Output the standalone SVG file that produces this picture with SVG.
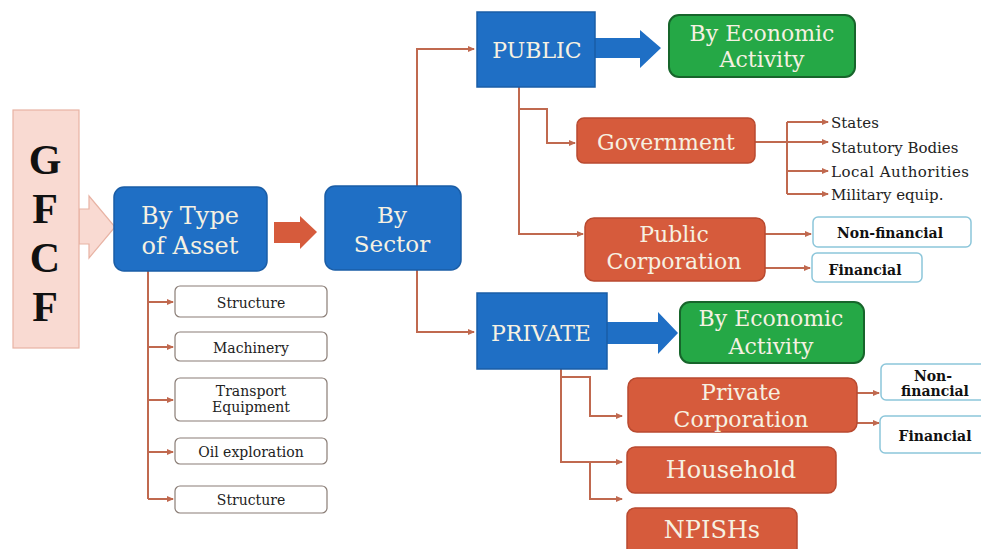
<svg xmlns="http://www.w3.org/2000/svg" width="981" height="549" viewBox="0 0 981 549">
<style>
.blue{fill:#1f6fc5;stroke:#1a5da6;stroke-width:1.5}
.red{fill:#d65b3c;stroke:#b94a30;stroke-width:1.5}
.green{fill:#25a846;stroke:#17652b;stroke-width:2}
.lt{font-family:"DejaVu Serif","Liberation Serif",serif;fill:#f6f1e2;text-anchor:middle}
.small{font-family:"DejaVu Serif","Liberation Serif",serif;fill:#222;font-size:14px;text-anchor:middle}
.list{font-family:"DejaVu Serif","Liberation Serif",serif;fill:#222;font-size:15px}
.bold{font-family:"DejaVu Serif","Liberation Serif",serif;fill:#111;font-size:14px;font-weight:bold;text-anchor:middle}
.gf{font-family:"Liberation Serif",serif;font-weight:bold;font-size:42px;fill:#111;text-anchor:middle}
.wbox{fill:#fff;stroke:#8a7d76;stroke-width:1.2}
.cbox{fill:#fff;stroke:#8cc6da;stroke-width:1.5}
.conn{fill:none;stroke:#c0694f;stroke-width:2}
</style>
<defs>
<marker id="ah" markerUnits="userSpaceOnUse" markerWidth="7" markerHeight="6" refX="6" refY="3" orient="auto">
<path d="M0,0 L7,3 L0,6 z" fill="#c0694f"/>
</marker>
</defs>
<rect width="981" height="549" fill="#fff"/>

<g id="connectors">
<path class="conn" d="M417,186 V49 H474" marker-end="url(#ah)"/>
<path class="conn" d="M417,270 V332 H474" marker-end="url(#ah)"/>
<path class="conn" d="M519,87 V234 H583" marker-end="url(#ah)"/>
<path class="conn" d="M519,109 H547 V143 H575" marker-end="url(#ah)"/>
<path class="conn" d="M755,142 H787"/>
<path class="conn" d="M787,122 V194"/>
<path class="conn" d="M787,122 H828" marker-end="url(#ah)"/>
<path class="conn" d="M787,142 H828" marker-end="url(#ah)"/>
<path class="conn" d="M787,171 H828" marker-end="url(#ah)"/>
<path class="conn" d="M787,194 H828" marker-end="url(#ah)"/>
<path class="conn" d="M765,234 H811" marker-end="url(#ah)"/>
<path class="conn" d="M765,268 H810" marker-end="url(#ah)"/>
<path class="conn" d="M561,369 V462 H622" marker-end="url(#ah)"/>
<path class="conn" d="M561,377 H590 V416 H622" marker-end="url(#ah)"/>
<path class="conn" d="M590,462 V499 H622" marker-end="url(#ah)"/>
<path class="conn" d="M857,393 H879" marker-end="url(#ah)"/>
<path class="conn" d="M857,423 H879" marker-end="url(#ah)"/>
<path class="conn" d="M148,271 V499"/>
<path class="conn" d="M148,302 H173" marker-end="url(#ah)"/>
<path class="conn" d="M148,347 H173" marker-end="url(#ah)"/>
<path class="conn" d="M148,400 H173" marker-end="url(#ah)"/>
<path class="conn" d="M148,452 H173" marker-end="url(#ah)"/>
<path class="conn" d="M148,499 H173" marker-end="url(#ah)"/>
<path d="M79,209 H89 V196 L115,227 L89,258 V244 H79 z" fill="#f9dad2" stroke="#e8b3a4" stroke-width="1.2"/>
<path d="M274,222 H300 V216 L317,232 L300,249 V243 H274 z" fill="#d65b3c"/>
<path d="M595,38 H640 V30 L661,48 L640,68 V58 H595 z" fill="#1f6fc5"/>
<path d="M607,322 H658 V312 L678,333 L658,354 V344 H607 z" fill="#1f6fc5"/>
</g>

<g id="gfcf">
<rect x="13" y="110" width="66" height="238" fill="#f9dad2" stroke="#e8b3a4" stroke-width="1.2"/>
<text class="gf" x="45" y="174">G</text>
<text class="gf" x="45" y="223">F</text>
<text class="gf" x="45" y="272">C</text>
<text class="gf" x="45" y="321">F</text>
</g>

<g id="type-of-asset">
<rect class="blue" x="114" y="187" width="153" height="84" rx="10"/>
<text class="lt" x="190" y="224" font-size="24">By Type</text>
<text class="lt" x="190" y="254" font-size="24">of Asset</text>
</g>

<g id="by-sector">
<rect class="blue" x="325" y="186" width="136" height="84" rx="10"/>
<text class="lt" x="392" y="223" font-size="23">By</text>
<text class="lt" x="392" y="252" font-size="23">Sector</text>
</g>

<g id="asset-structure">
<rect class="wbox" x="175" y="286" width="152" height="31" rx="5"/>
<text class="small" x="251" y="308">Structure</text>
</g>
<g id="asset-machinery">
<rect class="wbox" x="175" y="332" width="152" height="29" rx="5"/>
<text class="small" x="251" y="353">Machinery</text>
</g>
<g id="asset-transport">
<rect class="wbox" x="175" y="378" width="152" height="43" rx="5"/>
<text class="small" x="251" y="396">Transport</text>
<text class="small" x="251" y="412">Equipment</text>
</g>
<g id="asset-oil">
<rect class="wbox" x="175" y="438" width="152" height="26" rx="5"/>
<text class="small" x="251" y="457">Oil exploration</text>
</g>
<g id="asset-structure2">
<rect class="wbox" x="175" y="486" width="152" height="27" rx="5"/>
<text class="small" x="251" y="505">Structure</text>
</g>

<g id="public">
<rect class="blue" x="477" y="12" width="118" height="75"/>
<text class="lt" x="537" y="58" font-size="22">PUBLIC</text>
</g>

<g id="public-economic">
<rect class="green" x="669" y="15" width="186" height="62" rx="10"/>
<text class="lt" x="762" y="41" font-size="22">By Economic</text>
<text class="lt" x="762" y="67" font-size="22">Activity</text>
</g>

<g id="government">
<rect class="red" x="577" y="118" width="178" height="45" rx="7"/>
<text class="lt" x="666" y="150" font-size="22">Government</text>
</g>

<g id="gov-list">
<text class="list" x="831" y="128">States</text>
<text class="list" x="831" y="153">Statutory Bodies</text>
<text class="list" x="831" y="177" textLength="138" lengthAdjust="spacing">Local Authorities</text>
<text class="list" x="831" y="200">Military equip.</text>
</g>

<g id="public-corporation">
<rect class="red" x="585" y="218" width="180" height="63" rx="9"/>
<text class="lt" x="674" y="242" font-size="22">Public</text>
<text class="lt" x="674" y="269" font-size="22">Corporation</text>
</g>

<g id="pub-nonfinancial">
<rect class="cbox" x="813" y="217" width="158" height="30" rx="5"/>
<text class="bold" x="890" y="238">Non-financial</text>
</g>
<g id="pub-financial">
<rect class="cbox" x="812" y="253" width="110" height="29" rx="5"/>
<text class="bold" x="865" y="275">Financial</text>
</g>

<g id="private">
<rect class="blue" x="477" y="293" width="130" height="76"/>
<text class="lt" x="541" y="341" font-size="22">PRIVATE</text>
</g>

<g id="private-economic">
<rect class="green" x="680" y="302" width="184" height="61" rx="10"/>
<text class="lt" x="771" y="326" font-size="22">By Economic</text>
<text class="lt" x="771" y="354" font-size="22">Activity</text>
</g>

<g id="private-corporation">
<rect class="red" x="628" y="378" width="229" height="54" rx="9"/>
<text class="lt" x="741" y="400" font-size="22">Private</text>
<text class="lt" x="741" y="427" font-size="22">Corporation</text>
</g>

<g id="priv-nonfinancial">
<rect class="cbox" x="881" y="364" width="110" height="36" rx="5"/>
<text class="bold" x="933" y="381">Non-</text>
<text class="bold" x="935" y="396">financial</text>
</g>
<g id="priv-financial">
<rect class="cbox" x="880" y="416" width="110" height="37" rx="5"/>
<text class="bold" x="935" y="441">Financial</text>
</g>

<g id="household">
<rect class="red" x="627" y="447" width="209" height="46" rx="8"/>
<text class="lt" x="731" y="478" font-size="24">Household</text>
</g>

<g id="npishs">
<rect class="red" x="627" y="508" width="170" height="50" rx="8"/>
<text class="lt" x="712" y="538" font-size="24">NPISHs</text>
</g>
</svg>
